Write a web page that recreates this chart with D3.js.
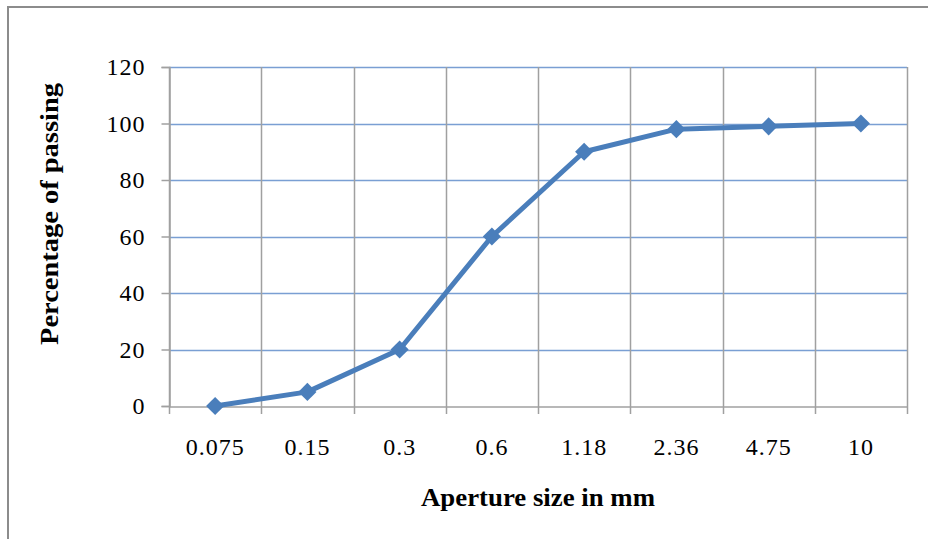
<!DOCTYPE html>
<html>
<head>
<meta charset="utf-8">
<script src="https://cdn.jsdelivr.net/npm/d3@7"></script>
<style>
  body { margin: 0; background: #fff; }
  svg { display: block; }
  .tick text { font-family: 'Liberation Serif', 'Times New Roman', serif; font-size: 24px; fill: #000; letter-spacing: 1px; }
  .title { font-family: 'Liberation Serif', 'Times New Roman', serif; font-weight: bold; font-size: 25px; fill: #000; }
</style>
</head>
<body>
<script>
// sieve sizes (mm) and percent passing
const sizes = ['0.075', '0.15', '0.3', '0.6', '1.18', '2.36', '4.75', '10']
const passing = [0, 5, 20, 60, 90, 98, 99, 100]
const yTicks = [0, 20, 40, 60, 80, 100, 120]

const W = 928
const H = 539
const m = { left: 169, right: 21, top: 67, bottom: 133 }

const svg = d3.select('body').append('svg')
  .attr('width', W)
  .attr('height', H)

// outer chart frame
svg.append('rect')
  .attr('x', 8)
  .attr('y', 7)
  .attr('width', W + 10)
  .attr('height', H + 10)
  .attr('fill', 'none')
  .attr('stroke', '#8c8c8c')
  .attr('stroke-width', 2)

const x = d3.scaleBand()
  .domain(sizes)
  .range([m.left, W - m.right])

const y = d3.scaleLinear()
  .domain([0, 120])
  .range([H - m.bottom, m.top])

const g = svg.append('g')

// horizontal grid (bluish, like excel)
g.selectAll('.hgrid')
  .data(yTicks.slice(1))
  .enter().append('line')
  .attr('class', 'hgrid')
  .attr('x1', m.left)
  .attr('x2', W - m.right)
  .attr('y1', d => Math.round(y(d)) + 0.5)
  .attr('y2', d => Math.round(y(d)) + 0.5)
  .attr('stroke', '#7a9fd3')
  .attr('stroke-width', 1.5)

// vertical grid at category boundaries
const edges = sizes.map(d => x(d)).concat([W - m.right])
g.selectAll('.vgrid')
  .data(edges)
  .enter().append('line')
  .attr('class', 'vgrid')
  .attr('x1', d => Math.round(d) + 0.5)
  .attr('x2', d => Math.round(d) + 0.5)
  .attr('y1', m.top)
  .attr('y2', H - m.bottom + 8)
  .attr('stroke', '#a0a0a0')
  .attr('stroke-width', 1.5)

// y axis
const yAxis = svg.append('g')
  .attr('transform', `translate(${m.left + 0.5},0)`)
  .call(d3.axisLeft(y).tickValues(yTicks).tickSize(8).tickPadding(16))
yAxis.selectAll('path, line').attr('stroke', '#a0a0a0').attr('stroke-width', 1.5)

// x axis
const xAxis = svg.append('g')
  .attr('transform', `translate(0,${Math.round(y(0)) + 0.5})`)
  .call(d3.axisBottom(x).tickSize(0).tickPadding(31))
xAxis.select('.domain').attr('stroke', '#a0a0a0').attr('stroke-width', 1.5)

// data line
const line = d3.line()
  .x((d, i) => x(sizes[i]) + x.bandwidth() / 2)
  .y(d => y(d))

svg.append('path')
  .datum(passing)
  .attr('d', line)
  .attr('fill', 'none')
  .attr('stroke', '#4a7ebb')
  .attr('stroke-width', 5)
  .attr('stroke-linejoin', 'round')

svg.selectAll('.pt')
  .data(passing)
  .enter().append('path')
  .attr('class', 'pt')
  .attr('d', d3.symbol().type(d3.symbolDiamond2).size(210))
  .attr('transform', (d, i) => `translate(${x(sizes[i]) + x.bandwidth() / 2},${y(d)})`)
  .attr('fill', '#4a7ebb')

// axis titles
svg.append('text')
  .attr('class', 'title')
  .attr('x', (m.left + W - m.right) / 2)
  .attr('y', 506)
  .attr('text-anchor', 'middle')
  .attr('textLength', 234)
  .attr('lengthAdjust', 'spacingAndGlyphs')
  .text('Aperture size in mm')

svg.append('text')
  .attr('class', 'title')
  .attr('transform', 'translate(58,214) rotate(-90)')
  .attr('text-anchor', 'middle')
  .attr('textLength', 262)
  .attr('lengthAdjust', 'spacingAndGlyphs')
  .text('Percentage of passing')
</script>
</body>
</html>
